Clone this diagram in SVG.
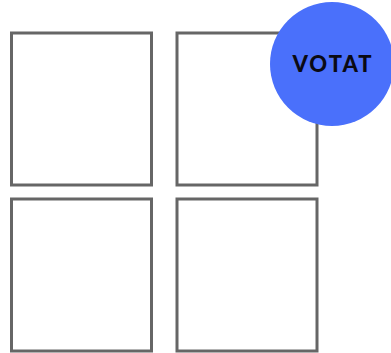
<svg xmlns="http://www.w3.org/2000/svg" width="391" height="353" viewBox="0 0 391 353">
<style>
.box{fill:#fff;stroke:#666;stroke-width:3}
.lbl{font-family:"Lato","Liberation Sans",sans-serif;font-weight:900;font-size:22px;fill:#0a0a14;letter-spacing:2px;text-anchor:middle}
</style>
<rect width="391" height="353" fill="#fff"/>
<g id="box-1"><rect class="box" x="11.500" y="33" width="140" height="152"/></g>
<g id="box-2"><rect class="box" x="177" y="33" width="140" height="152"/></g>
<g id="box-3"><rect class="box" x="11.500" y="199" width="140" height="152"/></g>
<g id="box-4"><rect class="box" x="177" y="199" width="140" height="152"/></g>
<g id="votat"><circle cx="332" cy="64" r="62" fill="#4a70fb"/><text class="lbl" x="333" y="72">VOTAT</text></g>
<g id="connectors"/>
</svg>
